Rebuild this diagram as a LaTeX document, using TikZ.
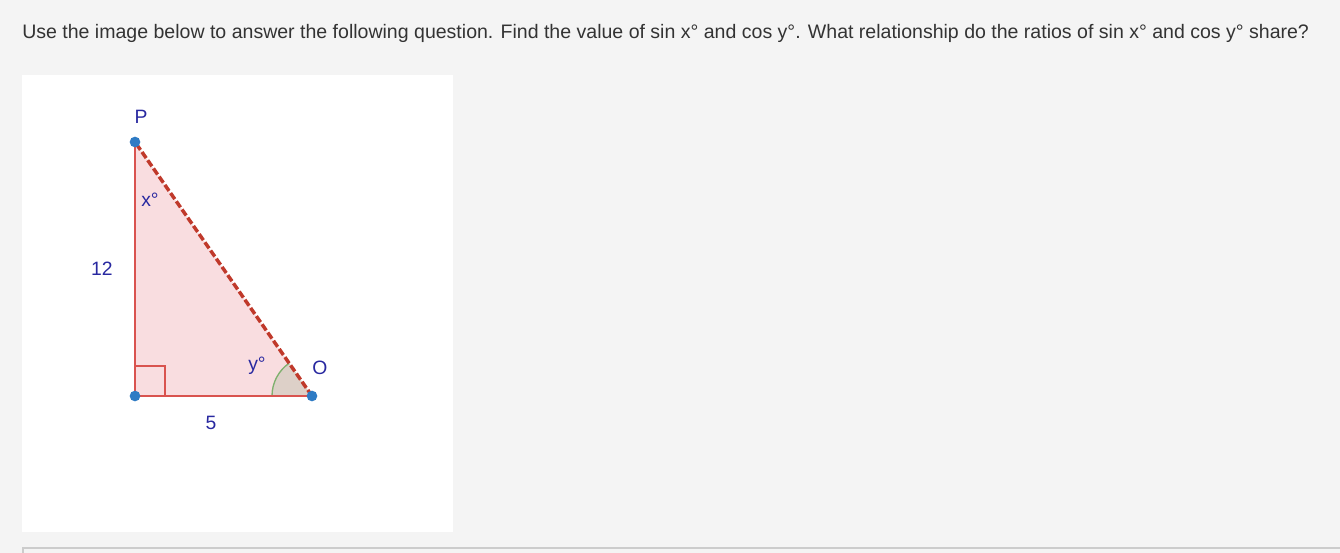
\documentclass[tikz,border=0pt]{standalone}
\usepackage{fontspec}
\setmainfont{Liberation Sans}
\definecolor{bg}{HTML}{F4F4F4}
\definecolor{legred}{HTML}{D9534F}
\definecolor{hypred}{HTML}{C0392B}
\definecolor{pinkfill}{HTML}{F9DDE0}
\definecolor{dotblue}{HTML}{2E7BC4}
\definecolor{lblue}{HTML}{2828A0}
\definecolor{arcfill}{HTML}{DDD0C8}
\definecolor{arcgreen}{HTML}{7FB06E}
\definecolor{qtext}{HTML}{333333}
\definecolor{boxline}{HTML}{CCCCCC}
\tikzset{
  lbl/.style={text=lblue, font=\fontsize{14.5}{16}\selectfont, inner sep=0pt},
  dot/.style={circle, fill=dotblue, minimum size=8pt, inner sep=0pt},
}
\begin{document}
\begin{tikzpicture}[x=0.75pt,y=-0.75pt]
\fill[bg] (0,0) rectangle (1340,553);
\useasboundingbox (0,0) rectangle (1340,553);
\fill[white] (22,75) rectangle (453,532);
\draw[boxline, line width=1.5pt] (22.5,560) -- (22.5,547.5) -- (1345,547.5);
\node[anchor=west, text=qtext, font=\fontsize{14.65}{17}\selectfont, inner sep=0pt] (q) at (22,33)
  {Use the image below to answer the following question. Find the value of sin x° and cos y°. What relationship do the ratios of sin x° and cos y° share?};
\coordinate (P) at (135,142);
\coordinate (R) at (135,396);
\coordinate (O) at (312,396);
\fill[pinkfill] (P) -- (R) -- (O) -- cycle;
\fill[arcfill] (O) -- ++(180:40) arc[start angle=180, end angle=235, radius=40] -- cycle;
\draw[arcgreen, line width=1pt] (O) ++(180:40) arc[start angle=180, end angle=235, radius=40];
\draw[legred, line width=1.2pt] (165,396) -- (165,366) -- (135,366);
\draw[legred, line width=1.5pt] (P) -- (R) -- (O);
\draw[hypred, line width=2.6pt, dash pattern=on 5.5pt off 2pt] (O) -- (P);
\node[dot] (p) at (P) {};
\node[dot] (r) at (R) {};
\node[dot] (o) at (O) {};
\node[lbl] (lp) at (141,117) {P};
\node[lbl] (lx) at (150,200) {x°};
\node[lbl] (l12) at (102,269) {12};
\node[lbl] (l5) at (211,423) {5};
\node[lbl] (ly) at (257,366) {y°};
\node[lbl] (lo) at (320,368) {O};
\end{tikzpicture}
\end{document}
